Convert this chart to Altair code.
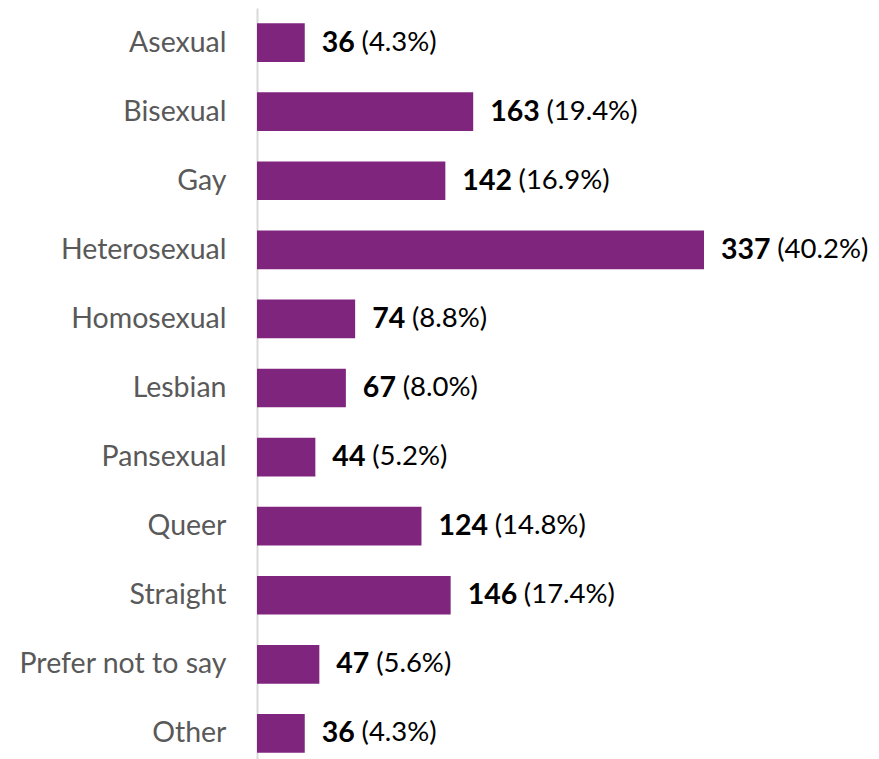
import altair as alt
import pandas as pd

categories = ["Asexual", "Bisexual", "Gay", "Heterosexual", "Homosexual", "Lesbian",
              "Pansexual", "Queer", "Straight", "Prefer not to say", "Other"]
counts = [36, 163, 142, 337, 74, 67, 44, 124, 146, 47, 36]
percents = ["(4.3%)", "(19.4%)", "(16.9%)", "(40.2%)", "(8.8%)", "(8.0%)",
            "(5.2%)", "(14.8%)", "(17.4%)", "(5.6%)", "(4.3%)"]

df = pd.DataFrame({"cat": categories, "count": counts, "pct": percents})

PX = 447.0 / 337.0  # pixels per unit
W = 614
XMAX = W / PX
FONT = "Lato"
FS = 28.5
PFS = 27.5
DIGIT = 16.4
GAP = 17
SPACE = 7

base = alt.Chart(df).encode(
    y=alt.Y("cat:N", sort=categories, title=None,
            scale=alt.Scale(paddingInner=0.44, paddingOuter=0.22),
            axis=alt.Axis(labelFont=FONT, labelFontSize=FS, labelColor="#595959",
                          labelPadding=31, ticks=False, domainColor="#d9d9d9",
                          domainWidth=2, labelLimit=400))
)

bars = base.mark_bar(color="#7F257E").encode(
    x=alt.X("count:Q", scale=alt.Scale(domain=[0, XMAX], nice=False), axis=None)
)

num = base.mark_text(align="left", baseline="middle", dx=GAP, font=FONT,
                     fontSize=FS, fontWeight="bold", color="#000000").encode(
    x="count:Q", text="count:Q")

pct = base.transform_calculate(
    px=f"datum['count'] + ({GAP} + {DIGIT}*length(toString(datum['count'])) + {SPACE})/{PX}"
).mark_text(align="left", baseline="middle", font=FONT, fontSize=PFS,
            color="#000000").encode(x="px:Q", text="pct:N")

chart = (bars + num + pct).properties(
    width=W, height=760,
    autosize=alt.AutoSizeParams(type="none"),
    padding={"left": 249, "top": 0, "right": 0, "bottom": 0},
).configure_view(stroke=None)

chart.save("out.html", embed_options={"renderer": "svg", "actions": False})
